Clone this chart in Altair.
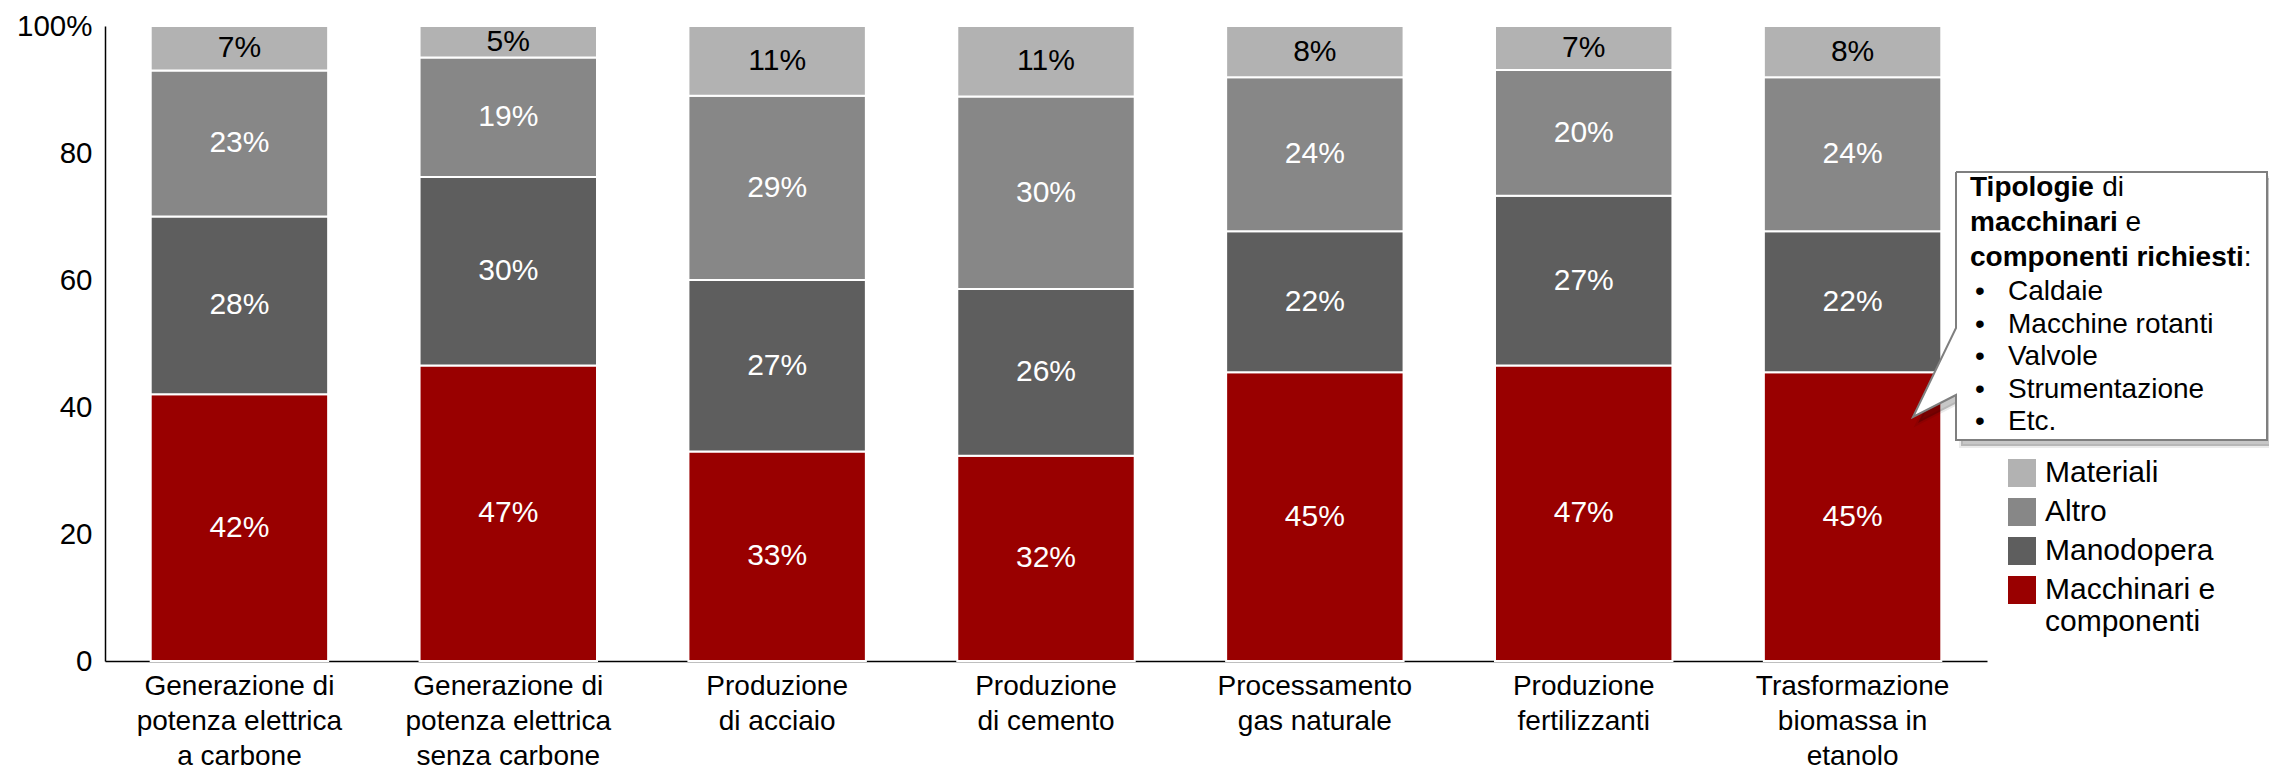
import altair as alt
import pandas as pd

# ---------------- data ----------------
categories = [
    "Generazione di|potenza elettrica|a carbone",
    "Generazione di|potenza elettrica|senza carbone",
    "Produzione|di acciaio",
    "Produzione|di cemento",
    "Processamento|gas naturale",
    "Produzione|fertilizzanti",
    "Trasformazione|biomassa in|etanolo",
]
series = ["Macchinari e componenti", "Manodopera", "Altro", "Materiali"]
macchinari = [42, 47, 33, 32, 45, 47, 45]
manodopera = [28, 30, 27, 26, 22, 27, 22]
altro = [23, 19, 29, 30, 24, 20, 24]
materiali = [7, 5, 11, 11, 8, 7, 8]

legend_order = ["Materiali", "Altro", "Manodopera", "Macchinari e componenti"]
colors = ["#B2B2B2", "#878787", "#5E5E5E", "#990000"]

y_ticks = [0, 0.2, 0.4, 0.6, 0.8, 1.0]

callout_bold = ["Tipologie", "macchinari", "componenti richiesti"]
callout_regular = ["di", "e", ":"]
callout_bullets = ["Caldaie", "Macchine rotanti", "Valvole", "Strumentazione", "Etc."]

# ---------------- layout ----------------
FONT = "Liberation Sans"
L, T = 105, 26
W, H = 1882, 635
TOTAL_W, TOTAL_H = 2269, 771

rows = []
for i, c in enumerate(categories):
    for k, (s, vals) in enumerate(zip(series, [macchinari, manodopera, altro, materiali])):
        rows.append({"category": c, "series": s, "order": k, "value": vals[i]})
df = pd.DataFrame(rows)

base = (
    alt.Chart(df)
    .transform_stack(
        stack="value",
        groupby=["category"],
        as_=["y0", "y1"],
        offset="normalize",
        sort=[alt.SortField("order", order="ascending")],
    )
    .transform_calculate(mid="(datum.y0 + datum.y1) / 2", label="datum.value + '%'")
)

x_axis = alt.Axis(
    title=None,
    labelExpr="split(datum.label, '|')",
    labelAngle=0,
    labelFont=FONT,
    labelFontSize=28,
    labelLineHeight=35,
    labelPadding=11,
    labelColor="black",
    labelLimit=400,
    domainColor="black",
    domainWidth=1.5,
    ticks=False,
)
x_scale = alt.Scale(paddingInner=0.34, paddingOuter=0.17)
y_axis = alt.Axis(
    title=None,
    values=y_ticks,
    labelExpr="datum.value >= 1 ? '100%' : format(datum.value * 100, 'd')",
    grid=False,
    ticks=False,
    domainColor="black",
    domainWidth=1.5,
    labelFont=FONT,
    labelFontSize=29.5,
    labelPadding=13,
    labelColor="black",
    labelFlush=False,
    labelOverlap=False,
)
y_scale = alt.Scale(domain=[0, 1], nice=False)

bars = base.mark_bar(stroke="white", strokeWidth=2).encode(
    x=alt.X("category:N", sort=categories, scale=x_scale, axis=x_axis),
    y=alt.Y("y0:Q", scale=y_scale, axis=y_axis),
    y2="y1:Q",
    color=alt.Color(
        "series:N",
        scale=alt.Scale(domain=legend_order, range=colors),
        legend=alt.Legend(
            title=None,
            orient="none",
            legendX=1902,
            legendY=432,
            symbolType="square",
            symbolSize=784,
            symbolStrokeWidth=0,
            labelFont=FONT,
            labelFontSize=30,
            labelColor="black",
            labelOffset=8,
            rowPadding=9,
            labelLimit=400,
            padding=0,
            labelExpr="datum.label == 'Macchinari e componenti' ? ['Macchinari e', 'componenti'] : datum.label",
        ),
    ),
)

labels = base.mark_text(font=FONT, fontSize=30, baseline="middle").encode(
    x=alt.X("category:N", sort=categories, scale=x_scale, axis=x_axis),
    y=alt.Y("mid:Q", scale=y_scale, axis=y_axis),
    text="label:N",
    color=alt.condition(alt.datum.series == "Materiali", alt.value("black"), alt.value("white")),
)

# ---------------- callout ----------------
ox, oy = L, T
box_pts = [(1956, 172), (2267, 172), (2267, 440), (1956, 440), (1956, 395), (1913, 417), (1956, 328), (1956, 172)]
poly = pd.DataFrame({
    "i": list(range(len(box_pts))),
    "px": [p[0] - ox for p in box_pts],
    "py": [p[1] - oy for p in box_pts],
})
shadow = poly.assign(px=poly.px + 5, py=poly.py + 6)

pxy = dict(
    x=alt.X("px:Q", scale=None),
    y=alt.Y("py:Q", scale=None),
    order="i:Q",
)
callout_shadow = alt.Chart(shadow).mark_line(
    fill="#000000", fillOpacity=0.22, stroke="#000000", strokeOpacity=0.08, strokeWidth=4
).encode(**pxy)
callout_box = alt.Chart(poly).mark_line(fill="white", stroke="#7F7F7F", strokeWidth=2).encode(**pxy)

ARIAL_BOLD = {'T': 611, 'i': 278, 'p': 611, 'o': 611, 'l': 278, 'g': 611, 'e': 556, 'm': 889,
              'a': 556, 'c': 556, 'h': 611, 'n': 611, 'r': 389, 's': 556, 't': 333, ' ': 278}
CFS = 28


def bold_width(s):
    return sum(ARIAL_BOLD.get(ch, 556) for ch in s) * CFS / 1000.0


text_x = 1970 - ox
line_y = [188, 223, 258, 292, 325, 357, 390, 422]
bold_df = pd.DataFrame({
    "px": [text_x] * 3,
    "py": [y - oy for y in line_y[:3]],
    "t": callout_bold,
})
reg_df = pd.DataFrame({
    "px": [text_x + bold_width(b) + (0 if r == ":" else 0.278 * CFS) for b, r in zip(callout_bold, callout_regular)],
    "py": [y - oy for y in line_y[:3]],
    "t": callout_regular,
})
bul_df = pd.DataFrame({
    "px": [2008 - ox] * len(callout_bullets),
    "py": [y - oy for y in line_y[3:]],
    "t": callout_bullets,
})
dot_df = pd.DataFrame({
    "px": [1975 - ox] * len(callout_bullets),
    "py": [y - oy for y in line_y[3:]],
    "t": ["•"] * len(callout_bullets),
})

txy = dict(x=alt.X("px:Q", scale=None), y=alt.Y("py:Q", scale=None), text="t:N")
t_bold = alt.Chart(bold_df).mark_text(font=FONT, fontSize=CFS, fontWeight="bold", align="left",
                                      baseline="middle", color="black").encode(**txy)
t_reg = alt.Chart(reg_df).mark_text(font=FONT, fontSize=CFS, align="left",
                                    baseline="middle", color="black").encode(**txy)
t_bul = alt.Chart(bul_df).mark_text(font=FONT, fontSize=CFS, align="left",
                                    baseline="middle", color="black").encode(**txy)
t_dot = alt.Chart(dot_df).mark_text(font=FONT, fontSize=CFS, align="left",
                                    baseline="middle", color="black").encode(**txy)

chart = (
    alt.layer(bars, labels, callout_shadow, callout_box, t_bold, t_reg, t_bul, t_dot)
    .properties(
        width=W,
        height=H,
        autosize=alt.AutoSizeParams(type="none"),
        padding={"left": L, "top": T, "right": TOTAL_W - L - W, "bottom": TOTAL_H - T - H},
        background="white",
    )
    .configure_view(stroke=None)
)

chart.save("out.html", embed_options={"renderer": "svg", "actions": False})
